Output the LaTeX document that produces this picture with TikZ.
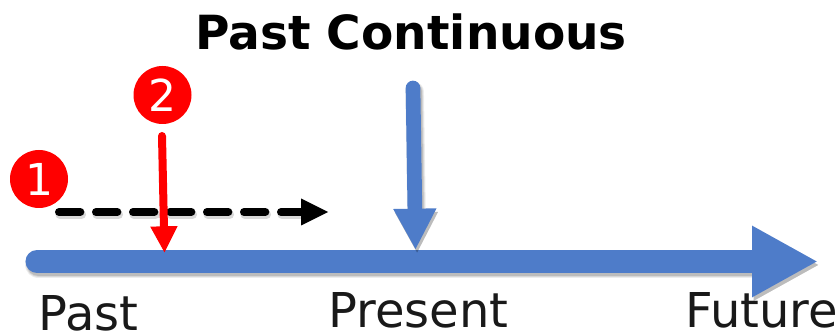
\documentclass[tikz,border=0pt]{standalone}
\usepackage{fontspec}
\setmainfont{DejaVu Sans}
\usetikzlibrary{arrows.meta}
\definecolor{axisblue}{RGB}{78,124,201}
\newcommand{\softshadow}[4]{% #1 width(pt) #2 tip #3 start #4 end
  \foreach \w/\o in {3/0.07,1.5/0.09,0/0.12}{
    \draw[black,opacity=\o,line width=#1pt+\w pt,line cap=round,-{Triangle[#2]},transform canvas={shift={(1.2pt,-2.6pt)}}] (#3) -- (#4);
  }
}
\tikzset{
  badge/.style={circle,fill=red,minimum size=43.5pt,inner sep=0pt,text=white,font=\fontsize{33}{33}\selectfont},
  label/.style={inner sep=0pt,anchor=base west,text=black!90,font=\fontsize{36}{36}\selectfont},
}
\begin{document}
\begin{tikzpicture}[x=0.75pt,y=-0.75pt]
\useasboundingbox (0,0) rectangle (838,334);
\fill[white] (0,0) rectangle (838,334);
\coordinate (axS) at (37,261.5);
\coordinate (axE) at (818,261.5);
\coordinate (tS) at (413,88);
\coordinate (tE) at (415.5,250);
\coordinate (dS) at (59,212);
\coordinate (dE) at (328,212);
\coordinate (rS) at (162,136);
\coordinate (rE) at (164.5,253);
\node[inner sep=0pt,anchor=base,font=\bfseries\fontsize{35.3}{35.3}\selectfont] (title) at (411,50) {Past Continuous};
\softshadow{17.3}{length=49.5pt,width=50pt}{axS}{axE}
\draw[axisblue,line width=17.3pt,line cap=round,-{Triangle[length=49.5pt,width=50pt]}] (axS) -- (axE);
\softshadow{11}{length=31pt,width=30pt}{tS}{tE}
\draw[axisblue,line width=11pt,line cap=round,-{Triangle[length=31pt,width=30pt]}] (tS) -- (tE);
\draw[black,opacity=0.15,line width=7pt,line cap=round,dash pattern=on 16pt off 11.75pt,shorten >=18pt,transform canvas={shift={(0.8pt,-2pt)}}] (dS) -- (dE);
\draw[black,line width=6pt,line cap=round,dash pattern=on 16pt off 11.75pt,shorten >=18pt] (dS) -- (dE);
\fill[black] (dE) -- ++(-27,-13.5) -- ++(0,27) -- cycle;
\node[badge] (b1) at (39,179) {1};
\node[badge] (b2) at (162.5,95) {2};
\draw[red,line width=6pt,line cap=round,-{Triangle[length=20pt,width=19pt]}] (rS) -- (rE);
\node[label] (past) at (38,330) {Past};
\node[label] (present) at (328,328) {Present};
\node[label] (future) at (685,328) {Future};
\end{tikzpicture}
\end{document}
